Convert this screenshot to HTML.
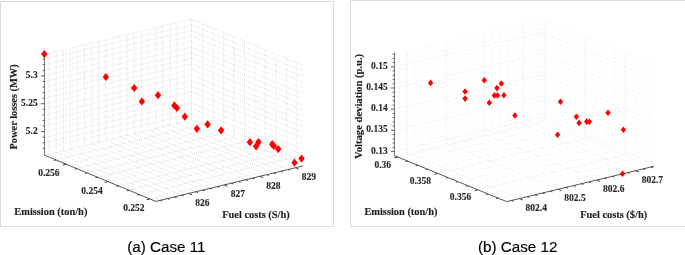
<!DOCTYPE html>
<html><head><meta charset="utf-8"><title>Case 11 / Case 12</title><style>
html,body{margin:0;padding:0;background:#fff;-webkit-font-smoothing:antialiased;}
body{width:685px;height:255px;overflow:hidden;position:relative;}
svg{position:absolute;left:0;top:0;will-change:transform;}
.gm1{stroke:#d0d0d0;stroke-width:0.9;stroke-dasharray:0.01 2.2;stroke-linecap:round;fill:none}
.gM1{stroke:#f1f1f1;stroke-width:0.8;fill:none}
.gm2{stroke:#f1f1f1;stroke-width:0.9;stroke-dasharray:0.01 2.2;stroke-linecap:round;fill:none}
.gM2{stroke:#f1f1f1;stroke-width:0.8;fill:none}
.ax{stroke:#555;stroke-width:1;fill:none}
.tk{stroke:#444;stroke-width:1;fill:none}
.zax{stroke:#7a7a7a;stroke-width:1;fill:none}
.ztk{stroke:#555;stroke-width:1;fill:none}
.d{fill:#ff0000}
.tl{font-family:"Liberation Serif",serif;font-weight:bold;font-size:9.5px;fill:#262626;stroke:#262626;stroke-width:0.12px}
.at{font-family:"Liberation Serif",serif;font-weight:bold;font-size:10.4px;fill:#1e1e1e;stroke:#1e1e1e;stroke-width:0.14px}
.cap{font-family:"Liberation Sans",sans-serif;font-size:15.2px;fill:#000;stroke:#000;stroke-width:0.15px}
.pb{fill:none;stroke:#dddddd;stroke-width:1}
</style></head>
<body>
<svg width="685" height="255" viewBox="0 0 685 255">
<rect class="pb" x="0.5" y="1.5" width="333" height="225"/>
<rect class="pb" x="350.5" y="0.5" width="340" height="226"/>
<line class="gm1" x1="49.1" y1="154.09" x2="160.4" y2="200.29"/>
<line class="gm1" x1="49.1" y1="154.09" x2="49.1" y2="53.29"/>
<line class="gm1" x1="56.2" y1="152.38" x2="167.5" y2="198.58"/>
<line class="gm1" x1="56.2" y1="152.38" x2="56.2" y2="51.58"/>
<line class="gm1" x1="63.3" y1="150.67" x2="174.6" y2="196.87"/>
<line class="gm1" x1="63.3" y1="150.67" x2="63.3" y2="49.87"/>
<line class="gm1" x1="70.4" y1="148.96" x2="181.7" y2="195.16"/>
<line class="gm1" x1="70.4" y1="148.96" x2="70.4" y2="48.16"/>
<line class="gM1" x1="77.5" y1="147.25" x2="188.8" y2="193.45"/>
<line class="gM1" x1="77.5" y1="147.25" x2="77.5" y2="46.45"/>
<line class="gm1" x1="84.6" y1="145.54" x2="195.9" y2="191.74"/>
<line class="gm1" x1="84.6" y1="145.54" x2="84.6" y2="44.74"/>
<line class="gm1" x1="91.7" y1="143.83" x2="203" y2="190.03"/>
<line class="gm1" x1="91.7" y1="143.83" x2="91.7" y2="43.03"/>
<line class="gm1" x1="98.8" y1="142.11" x2="210.1" y2="188.31"/>
<line class="gm1" x1="98.8" y1="142.11" x2="98.8" y2="41.31"/>
<line class="gm1" x1="105.9" y1="140.4" x2="217.2" y2="186.6"/>
<line class="gm1" x1="105.9" y1="140.4" x2="105.9" y2="39.6"/>
<line class="gM1" x1="113" y1="138.69" x2="224.3" y2="184.89"/>
<line class="gM1" x1="113" y1="138.69" x2="113" y2="37.89"/>
<line class="gm1" x1="120.1" y1="136.98" x2="231.4" y2="183.18"/>
<line class="gm1" x1="120.1" y1="136.98" x2="120.1" y2="36.18"/>
<line class="gm1" x1="127.2" y1="135.27" x2="238.5" y2="181.47"/>
<line class="gm1" x1="127.2" y1="135.27" x2="127.2" y2="34.47"/>
<line class="gm1" x1="134.3" y1="133.56" x2="245.6" y2="179.76"/>
<line class="gm1" x1="134.3" y1="133.56" x2="134.3" y2="32.76"/>
<line class="gm1" x1="141.4" y1="131.85" x2="252.7" y2="178.05"/>
<line class="gm1" x1="141.4" y1="131.85" x2="141.4" y2="31.05"/>
<line class="gM1" x1="148.5" y1="130.14" x2="259.8" y2="176.34"/>
<line class="gM1" x1="148.5" y1="130.14" x2="148.5" y2="29.34"/>
<line class="gm1" x1="155.6" y1="128.43" x2="266.9" y2="174.63"/>
<line class="gm1" x1="155.6" y1="128.43" x2="155.6" y2="27.63"/>
<line class="gm1" x1="162.7" y1="126.72" x2="274" y2="172.92"/>
<line class="gm1" x1="162.7" y1="126.72" x2="162.7" y2="25.92"/>
<line class="gm1" x1="169.8" y1="125.01" x2="281.1" y2="171.21"/>
<line class="gm1" x1="169.8" y1="125.01" x2="169.8" y2="24.21"/>
<line class="gm1" x1="176.9" y1="123.29" x2="288.2" y2="169.49"/>
<line class="gm1" x1="176.9" y1="123.29" x2="176.9" y2="22.49"/>
<line class="gM1" x1="184" y1="121.58" x2="295.3" y2="167.78"/>
<line class="gM1" x1="184" y1="121.58" x2="184" y2="20.78"/>
<line class="gm1" x1="55.85" y1="159.91" x2="202.75" y2="124.51"/>
<line class="gm1" x1="202.75" y1="124.51" x2="202.75" y2="23.71"/>
<line class="gM1" x1="66.3" y1="164.25" x2="213.2" y2="128.85"/>
<line class="gM1" x1="213.2" y1="128.85" x2="213.2" y2="28.05"/>
<line class="gm1" x1="76.75" y1="168.59" x2="223.65" y2="133.19"/>
<line class="gm1" x1="223.65" y1="133.19" x2="223.65" y2="32.39"/>
<line class="gm1" x1="87.2" y1="172.92" x2="234.1" y2="137.52"/>
<line class="gm1" x1="234.1" y1="137.52" x2="234.1" y2="36.72"/>
<line class="gm1" x1="97.65" y1="177.26" x2="244.55" y2="141.86"/>
<line class="gm1" x1="244.55" y1="141.86" x2="244.55" y2="41.06"/>
<line class="gM1" x1="108.1" y1="181.6" x2="255" y2="146.2"/>
<line class="gM1" x1="255" y1="146.2" x2="255" y2="45.4"/>
<line class="gm1" x1="118.55" y1="185.94" x2="265.45" y2="150.54"/>
<line class="gm1" x1="265.45" y1="150.54" x2="265.45" y2="49.74"/>
<line class="gm1" x1="129" y1="190.28" x2="275.9" y2="154.88"/>
<line class="gm1" x1="275.9" y1="154.88" x2="275.9" y2="54.08"/>
<line class="gm1" x1="139.45" y1="194.61" x2="286.35" y2="159.21"/>
<line class="gm1" x1="286.35" y1="159.21" x2="286.35" y2="58.41"/>
<line class="gM1" x1="149.9" y1="198.95" x2="296.8" y2="163.55"/>
<line class="gM1" x1="296.8" y1="163.55" x2="296.8" y2="62.75"/>
<line class="gm1" x1="44.5" y1="148.31" x2="191.4" y2="113.91"/>
<line class="gm1" x1="191.4" y1="113.91" x2="302.7" y2="160.21"/>
<line class="gm1" x1="44.5" y1="142.74" x2="191.4" y2="108.34"/>
<line class="gm1" x1="191.4" y1="108.34" x2="302.7" y2="154.64"/>
<line class="gm1" x1="44.5" y1="137.17" x2="191.4" y2="102.77"/>
<line class="gm1" x1="191.4" y1="102.77" x2="302.7" y2="149.07"/>
<line class="gM1" x1="44.5" y1="131.6" x2="191.4" y2="97.2"/>
<line class="gM1" x1="191.4" y1="97.2" x2="302.7" y2="143.5"/>
<line class="gm1" x1="44.5" y1="126.03" x2="191.4" y2="91.63"/>
<line class="gm1" x1="191.4" y1="91.63" x2="302.7" y2="137.93"/>
<line class="gm1" x1="44.5" y1="120.46" x2="191.4" y2="86.06"/>
<line class="gm1" x1="191.4" y1="86.06" x2="302.7" y2="132.36"/>
<line class="gm1" x1="44.5" y1="114.89" x2="191.4" y2="80.49"/>
<line class="gm1" x1="191.4" y1="80.49" x2="302.7" y2="126.79"/>
<line class="gm1" x1="44.5" y1="109.32" x2="191.4" y2="74.92"/>
<line class="gm1" x1="191.4" y1="74.92" x2="302.7" y2="121.22"/>
<line class="gM1" x1="44.5" y1="103.75" x2="191.4" y2="69.35"/>
<line class="gM1" x1="191.4" y1="69.35" x2="302.7" y2="115.65"/>
<line class="gm1" x1="44.5" y1="98.18" x2="191.4" y2="63.78"/>
<line class="gm1" x1="191.4" y1="63.78" x2="302.7" y2="110.08"/>
<line class="gm1" x1="44.5" y1="92.61" x2="191.4" y2="58.21"/>
<line class="gm1" x1="191.4" y1="58.21" x2="302.7" y2="104.51"/>
<line class="gm1" x1="44.5" y1="87.04" x2="191.4" y2="52.64"/>
<line class="gm1" x1="191.4" y1="52.64" x2="302.7" y2="98.94"/>
<line class="gm1" x1="44.5" y1="81.47" x2="191.4" y2="47.07"/>
<line class="gm1" x1="191.4" y1="47.07" x2="302.7" y2="93.37"/>
<line class="gM1" x1="44.5" y1="75.9" x2="191.4" y2="41.5"/>
<line class="gM1" x1="191.4" y1="41.5" x2="302.7" y2="87.8"/>
<line class="gm1" x1="44.5" y1="70.33" x2="191.4" y2="35.93"/>
<line class="gm1" x1="191.4" y1="35.93" x2="302.7" y2="82.23"/>
<line class="gm1" x1="44.5" y1="64.76" x2="191.4" y2="30.36"/>
<line class="gm1" x1="191.4" y1="30.36" x2="302.7" y2="76.66"/>
<line class="gm1" x1="44.5" y1="59.19" x2="191.4" y2="24.79"/>
<line class="gm1" x1="191.4" y1="24.79" x2="302.7" y2="71.09"/>
<line class="gm1" x1="44.5" y1="54.4" x2="191.4" y2="19"/>
<line class="gm1" x1="191.4" y1="19" x2="302.7" y2="65.2"/>
<line class="gm1" x1="191.4" y1="119.8" x2="191.4" y2="19"/>
<line class="gm1" x1="191.4" y1="119.8" x2="44.5" y2="155.2"/>
<line class="gm1" x1="191.4" y1="119.8" x2="302.7" y2="166"/>
<line class="zax" x1="44.5" y1="155.2" x2="44.5" y2="54.4"/>
<line class="ax" x1="44.5" y1="155.2" x2="155.8" y2="201.4"/>
<line class="ax" x1="155.8" y1="201.4" x2="302.7" y2="166"/>
<line class="ztk" x1="44.5" y1="148.31" x2="42.7" y2="148.31"/>
<line class="ztk" x1="44.5" y1="142.74" x2="42.7" y2="142.74"/>
<line class="ztk" x1="44.5" y1="137.17" x2="42.7" y2="137.17"/>
<line class="ztk" x1="44.5" y1="131.6" x2="41.1" y2="131.6"/>
<line class="ztk" x1="44.5" y1="126.03" x2="42.7" y2="126.03"/>
<line class="ztk" x1="44.5" y1="120.46" x2="42.7" y2="120.46"/>
<line class="ztk" x1="44.5" y1="114.89" x2="42.7" y2="114.89"/>
<line class="ztk" x1="44.5" y1="109.32" x2="42.7" y2="109.32"/>
<line class="ztk" x1="44.5" y1="103.75" x2="41.1" y2="103.75"/>
<line class="ztk" x1="44.5" y1="98.18" x2="42.7" y2="98.18"/>
<line class="ztk" x1="44.5" y1="92.61" x2="42.7" y2="92.61"/>
<line class="ztk" x1="44.5" y1="87.04" x2="42.7" y2="87.04"/>
<line class="ztk" x1="44.5" y1="81.47" x2="42.7" y2="81.47"/>
<line class="ztk" x1="44.5" y1="75.9" x2="41.1" y2="75.9"/>
<line class="ztk" x1="44.5" y1="70.33" x2="42.7" y2="70.33"/>
<line class="ztk" x1="44.5" y1="64.76" x2="42.7" y2="64.76"/>
<line class="ztk" x1="44.5" y1="59.19" x2="42.7" y2="59.19"/>
<line class="tk" x1="55.85" y1="159.91" x2="53.71" y2="160.43"/>
<line class="tk" x1="66.3" y1="164.25" x2="62.8" y2="165.09"/>
<line class="tk" x1="76.75" y1="168.59" x2="74.61" y2="169.1"/>
<line class="tk" x1="87.2" y1="172.92" x2="85.06" y2="173.44"/>
<line class="tk" x1="97.65" y1="177.26" x2="95.51" y2="177.78"/>
<line class="tk" x1="108.1" y1="181.6" x2="104.6" y2="182.44"/>
<line class="tk" x1="118.55" y1="185.94" x2="116.41" y2="186.45"/>
<line class="tk" x1="129" y1="190.28" x2="126.86" y2="190.79"/>
<line class="tk" x1="139.45" y1="194.61" x2="137.31" y2="195.13"/>
<line class="tk" x1="149.9" y1="198.95" x2="146.4" y2="199.79"/>
<line class="tk" x1="160.4" y1="200.29" x2="162.43" y2="201.13"/>
<line class="tk" x1="167.5" y1="198.58" x2="169.53" y2="199.42"/>
<line class="tk" x1="174.6" y1="196.87" x2="176.63" y2="197.71"/>
<line class="tk" x1="181.7" y1="195.16" x2="183.73" y2="196"/>
<line class="tk" x1="188.8" y1="193.45" x2="192.12" y2="194.83"/>
<line class="tk" x1="195.9" y1="191.74" x2="197.93" y2="192.58"/>
<line class="tk" x1="203" y1="190.03" x2="205.03" y2="190.87"/>
<line class="tk" x1="210.1" y1="188.31" x2="212.13" y2="189.16"/>
<line class="tk" x1="217.2" y1="186.6" x2="219.23" y2="187.45"/>
<line class="tk" x1="224.3" y1="184.89" x2="227.62" y2="186.27"/>
<line class="tk" x1="231.4" y1="183.18" x2="233.43" y2="184.03"/>
<line class="tk" x1="238.5" y1="181.47" x2="240.53" y2="182.31"/>
<line class="tk" x1="245.6" y1="179.76" x2="247.63" y2="180.6"/>
<line class="tk" x1="252.7" y1="178.05" x2="254.73" y2="178.89"/>
<line class="tk" x1="259.8" y1="176.34" x2="263.12" y2="177.72"/>
<line class="tk" x1="266.9" y1="174.63" x2="268.93" y2="175.47"/>
<line class="tk" x1="274" y1="172.92" x2="276.03" y2="173.76"/>
<line class="tk" x1="281.1" y1="171.21" x2="283.13" y2="172.05"/>
<line class="tk" x1="288.2" y1="169.49" x2="290.23" y2="170.34"/>
<line class="tk" x1="295.3" y1="167.78" x2="298.62" y2="169.16"/>
<path class="d" d="M44.3 50L47.5 54.1L44.3 58.2L41.1 54.1Z"/>
<path class="d" d="M105.8 72.9L109 77L105.8 81.1L102.6 77Z"/>
<path class="d" d="M134.2 83.9L137.4 88L134.2 92.1L131 88Z"/>
<path class="d" d="M141.9 97.4L145.1 101.5L141.9 105.6L138.7 101.5Z"/>
<path class="d" d="M158 91.1L161.2 95.2L158 99.3L154.8 95.2Z"/>
<path class="d" d="M174.3 101.3L177.5 105.4L174.3 109.5L171.1 105.4Z"/>
<path class="d" d="M176.9 103.9L180.1 108L176.9 112.1L173.7 108Z"/>
<path class="d" d="M184.8 112.6L188 116.7L184.8 120.8L181.6 116.7Z"/>
<path class="d" d="M196.9 124.7L200.1 128.8L196.9 132.9L193.7 128.8Z"/>
<path class="d" d="M207.6 120.3L210.8 124.4L207.6 128.5L204.4 124.4Z"/>
<path class="d" d="M221.1 126.2L224.3 130.3L221.1 134.4L217.9 130.3Z"/>
<path class="d" d="M249.9 138.1L253.1 142.2L249.9 146.3L246.7 142.2Z"/>
<path class="d" d="M256.1 142.2L259.3 146.3L256.1 150.4L252.9 146.3Z"/>
<path class="d" d="M258.5 138L261.7 142.1L258.5 146.2L255.3 142.1Z"/>
<path class="d" d="M272.2 140.1L275.4 144.2L272.2 148.3L269 144.2Z"/>
<path class="d" d="M273.8 141.9L277 146L273.8 150.1L270.6 146Z"/>
<path class="d" d="M278.2 145L281.4 149.1L278.2 153.2L275 149.1Z"/>
<path class="d" d="M294.5 158.6L297.7 162.7L294.5 166.8L291.3 162.7Z"/>
<path class="d" d="M301.5 154.5L304.7 158.6L301.5 162.7L298.3 158.6Z"/>
<text class="tl" x="37.7" y="134.1" text-anchor="end">5.2</text>
<text class="tl" x="37.7" y="105.9" text-anchor="end">5.25</text>
<text class="tl" x="37.7" y="77.7" text-anchor="end">5.3</text>
<text class="tl" x="59.6" y="175.71" text-anchor="end">0.256</text>
<text class="tl" x="102.7" y="193.6" text-anchor="end">0.254</text>
<text class="tl" x="144.5" y="210.95" text-anchor="end">0.252</text>
<text class="tl" x="195.3" y="205.69">826</text>
<text class="tl" x="230.8" y="197.13">827</text>
<text class="tl" x="266.3" y="188.58">828</text>
<text class="tl" x="301.8" y="180.02">829</text>
<text class="at" transform="translate(17.3 106.9) rotate(-90)" text-anchor="middle">Power losses (MW)</text>
<text class="at" x="14.3" y="214.6">Emission (ton/h)</text>
<text class="at" x="222.2" y="217.5">Fuel costs (S/h)</text>
<line class="gm2" x1="399.46" y1="154.51" x2="511.66" y2="200.41"/>
<line class="gm2" x1="399.46" y1="154.51" x2="399.46" y2="53.21"/>
<line class="gM2" x1="407.2" y1="152.66" x2="519.4" y2="198.56"/>
<line class="gM2" x1="407.2" y1="152.66" x2="407.2" y2="51.36"/>
<line class="gm2" x1="414.94" y1="150.8" x2="527.14" y2="196.7"/>
<line class="gm2" x1="414.94" y1="150.8" x2="414.94" y2="49.5"/>
<line class="gm2" x1="422.68" y1="148.95" x2="534.88" y2="194.85"/>
<line class="gm2" x1="422.68" y1="148.95" x2="422.68" y2="47.65"/>
<line class="gm2" x1="430.42" y1="147.09" x2="542.62" y2="192.99"/>
<line class="gm2" x1="430.42" y1="147.09" x2="430.42" y2="45.79"/>
<line class="gm2" x1="438.16" y1="145.24" x2="550.36" y2="191.14"/>
<line class="gm2" x1="438.16" y1="145.24" x2="438.16" y2="43.94"/>
<line class="gM2" x1="445.9" y1="143.38" x2="558.1" y2="189.28"/>
<line class="gM2" x1="445.9" y1="143.38" x2="445.9" y2="42.08"/>
<line class="gm2" x1="453.64" y1="141.53" x2="565.84" y2="187.43"/>
<line class="gm2" x1="453.64" y1="141.53" x2="453.64" y2="40.23"/>
<line class="gm2" x1="461.38" y1="139.67" x2="573.58" y2="185.57"/>
<line class="gm2" x1="461.38" y1="139.67" x2="461.38" y2="38.37"/>
<line class="gm2" x1="469.12" y1="137.82" x2="581.32" y2="183.72"/>
<line class="gm2" x1="469.12" y1="137.82" x2="469.12" y2="36.52"/>
<line class="gm2" x1="476.86" y1="135.96" x2="589.06" y2="181.86"/>
<line class="gm2" x1="476.86" y1="135.96" x2="476.86" y2="34.66"/>
<line class="gM2" x1="484.6" y1="134.11" x2="596.8" y2="180.01"/>
<line class="gM2" x1="484.6" y1="134.11" x2="484.6" y2="32.81"/>
<line class="gm2" x1="492.34" y1="132.25" x2="604.54" y2="178.15"/>
<line class="gm2" x1="492.34" y1="132.25" x2="492.34" y2="30.95"/>
<line class="gm2" x1="500.08" y1="130.4" x2="612.28" y2="176.3"/>
<line class="gm2" x1="500.08" y1="130.4" x2="500.08" y2="29.1"/>
<line class="gm2" x1="507.82" y1="128.54" x2="620.02" y2="174.44"/>
<line class="gm2" x1="507.82" y1="128.54" x2="507.82" y2="27.24"/>
<line class="gm2" x1="515.56" y1="126.69" x2="627.76" y2="172.59"/>
<line class="gm2" x1="515.56" y1="126.69" x2="515.56" y2="25.39"/>
<line class="gM2" x1="523.3" y1="124.83" x2="635.5" y2="170.73"/>
<line class="gM2" x1="523.3" y1="124.83" x2="523.3" y2="23.53"/>
<line class="gm2" x1="531.04" y1="122.98" x2="643.24" y2="168.88"/>
<line class="gm2" x1="531.04" y1="122.98" x2="531.04" y2="21.68"/>
<line class="gm2" x1="538.78" y1="121.12" x2="650.98" y2="167.02"/>
<line class="gm2" x1="538.78" y1="121.12" x2="538.78" y2="19.82"/>
<line class="gM2" x1="397.8" y1="157.05" x2="545.1" y2="121.75"/>
<line class="gM2" x1="545.1" y1="121.75" x2="545.1" y2="20.45"/>
<line class="gm2" x1="407.82" y1="161.15" x2="555.12" y2="125.85"/>
<line class="gm2" x1="555.12" y1="125.85" x2="555.12" y2="24.55"/>
<line class="gm2" x1="417.84" y1="165.25" x2="565.14" y2="129.95"/>
<line class="gm2" x1="565.14" y1="129.95" x2="565.14" y2="28.65"/>
<line class="gm2" x1="427.86" y1="169.35" x2="575.16" y2="134.05"/>
<line class="gm2" x1="575.16" y1="134.05" x2="575.16" y2="32.75"/>
<line class="gM2" x1="437.88" y1="173.45" x2="585.18" y2="138.15"/>
<line class="gM2" x1="585.18" y1="138.15" x2="585.18" y2="36.85"/>
<line class="gm2" x1="447.9" y1="177.55" x2="595.2" y2="142.25"/>
<line class="gm2" x1="595.2" y1="142.25" x2="595.2" y2="40.95"/>
<line class="gm2" x1="457.92" y1="181.64" x2="605.22" y2="146.34"/>
<line class="gm2" x1="605.22" y1="146.34" x2="605.22" y2="45.04"/>
<line class="gm2" x1="467.94" y1="185.74" x2="615.24" y2="150.44"/>
<line class="gm2" x1="615.24" y1="150.44" x2="615.24" y2="49.14"/>
<line class="gM2" x1="477.96" y1="189.84" x2="625.26" y2="154.54"/>
<line class="gM2" x1="625.26" y1="154.54" x2="625.26" y2="53.24"/>
<line class="gm2" x1="487.98" y1="193.94" x2="635.28" y2="158.64"/>
<line class="gm2" x1="635.28" y1="158.64" x2="635.28" y2="57.34"/>
<line class="gm2" x1="498" y1="198.04" x2="645.3" y2="162.74"/>
<line class="gm2" x1="645.3" y1="162.74" x2="645.3" y2="61.44"/>
<line class="gM2" x1="394.5" y1="151.6" x2="541.8" y2="117.3"/>
<line class="gM2" x1="541.8" y1="117.3" x2="654" y2="163.3"/>
<line class="gm2" x1="394.5" y1="147.36" x2="541.8" y2="113.06"/>
<line class="gm2" x1="541.8" y1="113.06" x2="654" y2="159.06"/>
<line class="gm2" x1="394.5" y1="143.12" x2="541.8" y2="108.82"/>
<line class="gm2" x1="541.8" y1="108.82" x2="654" y2="154.82"/>
<line class="gm2" x1="394.5" y1="138.88" x2="541.8" y2="104.58"/>
<line class="gm2" x1="541.8" y1="104.58" x2="654" y2="150.58"/>
<line class="gm2" x1="394.5" y1="134.64" x2="541.8" y2="100.34"/>
<line class="gm2" x1="541.8" y1="100.34" x2="654" y2="146.34"/>
<line class="gM2" x1="394.5" y1="130.4" x2="541.8" y2="96.1"/>
<line class="gM2" x1="541.8" y1="96.1" x2="654" y2="142.1"/>
<line class="gm2" x1="394.5" y1="126.16" x2="541.8" y2="91.86"/>
<line class="gm2" x1="541.8" y1="91.86" x2="654" y2="137.86"/>
<line class="gm2" x1="394.5" y1="121.92" x2="541.8" y2="87.62"/>
<line class="gm2" x1="541.8" y1="87.62" x2="654" y2="133.62"/>
<line class="gm2" x1="394.5" y1="117.68" x2="541.8" y2="83.38"/>
<line class="gm2" x1="541.8" y1="83.38" x2="654" y2="129.38"/>
<line class="gm2" x1="394.5" y1="113.44" x2="541.8" y2="79.14"/>
<line class="gm2" x1="541.8" y1="79.14" x2="654" y2="125.14"/>
<line class="gM2" x1="394.5" y1="109.2" x2="541.8" y2="74.9"/>
<line class="gM2" x1="541.8" y1="74.9" x2="654" y2="120.9"/>
<line class="gm2" x1="394.5" y1="104.96" x2="541.8" y2="70.66"/>
<line class="gm2" x1="541.8" y1="70.66" x2="654" y2="116.66"/>
<line class="gm2" x1="394.5" y1="100.72" x2="541.8" y2="66.42"/>
<line class="gm2" x1="541.8" y1="66.42" x2="654" y2="112.42"/>
<line class="gm2" x1="394.5" y1="96.48" x2="541.8" y2="62.18"/>
<line class="gm2" x1="541.8" y1="62.18" x2="654" y2="108.18"/>
<line class="gm2" x1="394.5" y1="92.24" x2="541.8" y2="57.94"/>
<line class="gm2" x1="541.8" y1="57.94" x2="654" y2="103.94"/>
<line class="gM2" x1="394.5" y1="88" x2="541.8" y2="53.7"/>
<line class="gM2" x1="541.8" y1="53.7" x2="654" y2="99.7"/>
<line class="gm2" x1="394.5" y1="83.76" x2="541.8" y2="49.46"/>
<line class="gm2" x1="541.8" y1="49.46" x2="654" y2="95.46"/>
<line class="gm2" x1="394.5" y1="79.52" x2="541.8" y2="45.22"/>
<line class="gm2" x1="541.8" y1="45.22" x2="654" y2="91.22"/>
<line class="gm2" x1="394.5" y1="75.28" x2="541.8" y2="40.98"/>
<line class="gm2" x1="541.8" y1="40.98" x2="654" y2="86.98"/>
<line class="gm2" x1="394.5" y1="71.04" x2="541.8" y2="36.74"/>
<line class="gm2" x1="541.8" y1="36.74" x2="654" y2="82.74"/>
<line class="gM2" x1="394.5" y1="66.8" x2="541.8" y2="32.5"/>
<line class="gM2" x1="541.8" y1="32.5" x2="654" y2="78.5"/>
<line class="gm2" x1="394.5" y1="62.56" x2="541.8" y2="28.26"/>
<line class="gm2" x1="541.8" y1="28.26" x2="654" y2="74.26"/>
<line class="gm2" x1="394.5" y1="58.32" x2="541.8" y2="24.02"/>
<line class="gm2" x1="541.8" y1="24.02" x2="654" y2="70.02"/>
<line class="gm2" x1="394.5" y1="54.4" x2="541.8" y2="19.1"/>
<line class="gm2" x1="541.8" y1="19.1" x2="654" y2="65"/>
<line class="gm2" x1="541.8" y1="120.4" x2="541.8" y2="19.1"/>
<line class="gm2" x1="541.8" y1="120.4" x2="394.5" y2="155.7"/>
<line class="gm2" x1="541.8" y1="120.4" x2="654" y2="166.3"/>
<line class="zax" x1="394.5" y1="155.7" x2="394.5" y2="53"/>
<line class="ax" x1="394.5" y1="155.7" x2="506.7" y2="201.6"/>
<line class="ax" x1="506.7" y1="201.6" x2="654" y2="166.3"/>
<line class="ztk" x1="394.5" y1="151.6" x2="391.1" y2="151.6"/>
<line class="ztk" x1="394.5" y1="147.36" x2="392.7" y2="147.36"/>
<line class="ztk" x1="394.5" y1="143.12" x2="392.7" y2="143.12"/>
<line class="ztk" x1="394.5" y1="138.88" x2="392.7" y2="138.88"/>
<line class="ztk" x1="394.5" y1="134.64" x2="392.7" y2="134.64"/>
<line class="ztk" x1="394.5" y1="130.4" x2="391.1" y2="130.4"/>
<line class="ztk" x1="394.5" y1="126.16" x2="392.7" y2="126.16"/>
<line class="ztk" x1="394.5" y1="121.92" x2="392.7" y2="121.92"/>
<line class="ztk" x1="394.5" y1="117.68" x2="392.7" y2="117.68"/>
<line class="ztk" x1="394.5" y1="113.44" x2="392.7" y2="113.44"/>
<line class="ztk" x1="394.5" y1="109.2" x2="391.1" y2="109.2"/>
<line class="ztk" x1="394.5" y1="104.96" x2="392.7" y2="104.96"/>
<line class="ztk" x1="394.5" y1="100.72" x2="392.7" y2="100.72"/>
<line class="ztk" x1="394.5" y1="96.48" x2="392.7" y2="96.48"/>
<line class="ztk" x1="394.5" y1="92.24" x2="392.7" y2="92.24"/>
<line class="ztk" x1="394.5" y1="88" x2="391.1" y2="88"/>
<line class="ztk" x1="394.5" y1="83.76" x2="392.7" y2="83.76"/>
<line class="ztk" x1="394.5" y1="79.52" x2="392.7" y2="79.52"/>
<line class="ztk" x1="394.5" y1="75.28" x2="392.7" y2="75.28"/>
<line class="ztk" x1="394.5" y1="71.04" x2="392.7" y2="71.04"/>
<line class="ztk" x1="394.5" y1="66.8" x2="391.1" y2="66.8"/>
<line class="ztk" x1="394.5" y1="62.56" x2="392.7" y2="62.56"/>
<line class="ztk" x1="394.5" y1="58.32" x2="392.7" y2="58.32"/>
<line class="ztk" x1="394.5" y1="54.08" x2="392.7" y2="54.08"/>
<line class="tk" x1="397.8" y1="157.05" x2="394.3" y2="157.89"/>
<line class="tk" x1="407.82" y1="161.15" x2="405.68" y2="161.66"/>
<line class="tk" x1="417.84" y1="165.25" x2="415.7" y2="165.76"/>
<line class="tk" x1="427.86" y1="169.35" x2="425.72" y2="169.86"/>
<line class="tk" x1="437.88" y1="173.45" x2="434.38" y2="174.29"/>
<line class="tk" x1="447.9" y1="177.55" x2="445.76" y2="178.06"/>
<line class="tk" x1="457.92" y1="181.64" x2="455.78" y2="182.16"/>
<line class="tk" x1="467.94" y1="185.74" x2="465.8" y2="186.26"/>
<line class="tk" x1="477.96" y1="189.84" x2="474.46" y2="190.68"/>
<line class="tk" x1="487.98" y1="193.94" x2="485.84" y2="194.45"/>
<line class="tk" x1="498" y1="198.04" x2="495.86" y2="198.55"/>
<line class="tk" x1="511.66" y1="200.41" x2="513.7" y2="201.24"/>
<line class="tk" x1="519.4" y1="198.56" x2="522.73" y2="199.92"/>
<line class="tk" x1="527.14" y1="196.7" x2="529.18" y2="197.53"/>
<line class="tk" x1="534.88" y1="194.85" x2="536.92" y2="195.68"/>
<line class="tk" x1="542.62" y1="192.99" x2="544.66" y2="193.82"/>
<line class="tk" x1="550.36" y1="191.14" x2="552.4" y2="191.97"/>
<line class="tk" x1="558.1" y1="189.28" x2="561.43" y2="190.65"/>
<line class="tk" x1="565.84" y1="187.43" x2="567.88" y2="188.26"/>
<line class="tk" x1="573.58" y1="185.57" x2="575.62" y2="186.41"/>
<line class="tk" x1="581.32" y1="183.72" x2="583.36" y2="184.55"/>
<line class="tk" x1="589.06" y1="181.86" x2="591.1" y2="182.7"/>
<line class="tk" x1="596.8" y1="180.01" x2="600.13" y2="181.37"/>
<line class="tk" x1="604.54" y1="178.15" x2="606.58" y2="178.99"/>
<line class="tk" x1="612.28" y1="176.3" x2="614.32" y2="177.13"/>
<line class="tk" x1="620.02" y1="174.44" x2="622.06" y2="175.28"/>
<line class="tk" x1="627.76" y1="172.59" x2="629.8" y2="173.42"/>
<line class="tk" x1="635.5" y1="170.73" x2="638.83" y2="172.1"/>
<line class="tk" x1="643.24" y1="168.88" x2="645.28" y2="169.71"/>
<line class="tk" x1="650.98" y1="167.02" x2="653.02" y2="167.86"/>
<path class="d" d="M430.6 79.6L433.3 82.9L430.6 86.2L427.9 82.9Z"/>
<path class="d" d="M465.1 88.2L467.8 91.5L465.1 94.8L462.4 91.5Z"/>
<path class="d" d="M465.1 95.3L467.8 98.6L465.1 101.9L462.4 98.6Z"/>
<path class="d" d="M484.3 77L487 80.3L484.3 83.6L481.6 80.3Z"/>
<path class="d" d="M501.3 80.2L504 83.5L501.3 86.8L498.6 83.5Z"/>
<path class="d" d="M497 84.8L499.7 88.1L497 91.4L494.3 88.1Z"/>
<path class="d" d="M494.4 92.1L497.1 95.4L494.4 98.7L491.7 95.4Z"/>
<path class="d" d="M497.5 92.1L500.2 95.4L497.5 98.7L494.8 95.4Z"/>
<path class="d" d="M503.9 92L506.6 95.3L503.9 98.6L501.2 95.3Z"/>
<path class="d" d="M489.3 99.5L492 102.8L489.3 106.1L486.6 102.8Z"/>
<path class="d" d="M514.9 112.2L517.6 115.5L514.9 118.8L512.2 115.5Z"/>
<path class="d" d="M560.5 98.4L563.2 101.7L560.5 105L557.8 101.7Z"/>
<path class="d" d="M576.4 113.5L579.1 116.8L576.4 120.1L573.7 116.8Z"/>
<path class="d" d="M579.1 119.6L581.8 122.9L579.1 126.2L576.4 122.9Z"/>
<path class="d" d="M586.7 118.3L589.4 121.6L586.7 124.9L584 121.6Z"/>
<path class="d" d="M589.4 118.5L592.1 121.8L589.4 125.1L586.7 121.8Z"/>
<path class="d" d="M608 109.4L610.7 112.7L608 116L605.3 112.7Z"/>
<path class="d" d="M623.4 126.5L626.1 129.8L623.4 133.1L620.7 129.8Z"/>
<path class="d" d="M557.6 131.4L560.3 134.7L557.6 138L554.9 134.7Z"/>
<path class="d" d="M622.6 170.5L625.3 173.8L622.6 177.1L619.9 173.8Z"/>
<text class="tl" x="387.7" y="153.6" text-anchor="end">0.13</text>
<text class="tl" x="387.7" y="132.4" text-anchor="end">0.135</text>
<text class="tl" x="387.7" y="111.2" text-anchor="end">0.14</text>
<text class="tl" x="387.7" y="90" text-anchor="end">0.145</text>
<text class="tl" x="387.7" y="68.8" text-anchor="end">0.15</text>
<text class="tl" x="391" y="168.15" text-anchor="end">0.36</text>
<text class="tl" x="431.1" y="183.85" text-anchor="end">0.358</text>
<text class="tl" x="471.2" y="200.26" text-anchor="end">0.356</text>
<text class="tl" x="525.6" y="210.7">802.4</text>
<text class="tl" x="564.3" y="201.42">802.5</text>
<text class="tl" x="603" y="192.15">802.6</text>
<text class="tl" x="641.7" y="182.87">802.7</text>
<text class="at" style="font-size:10.6px" transform="translate(362.3 106.4) rotate(-90)" text-anchor="middle">Voltage deviation (p.u.)</text>
<text class="at" x="364.4" y="214.9">Emission (ton/h)</text>
<text class="at" x="580.2" y="217.5">Fuel costs ($/h)</text>
<text class="cap" x="127.3" y="252">(a) Case 11</text>
<text class="cap" x="478" y="252">(b) Case 12</text>
</svg>
</body></html>
